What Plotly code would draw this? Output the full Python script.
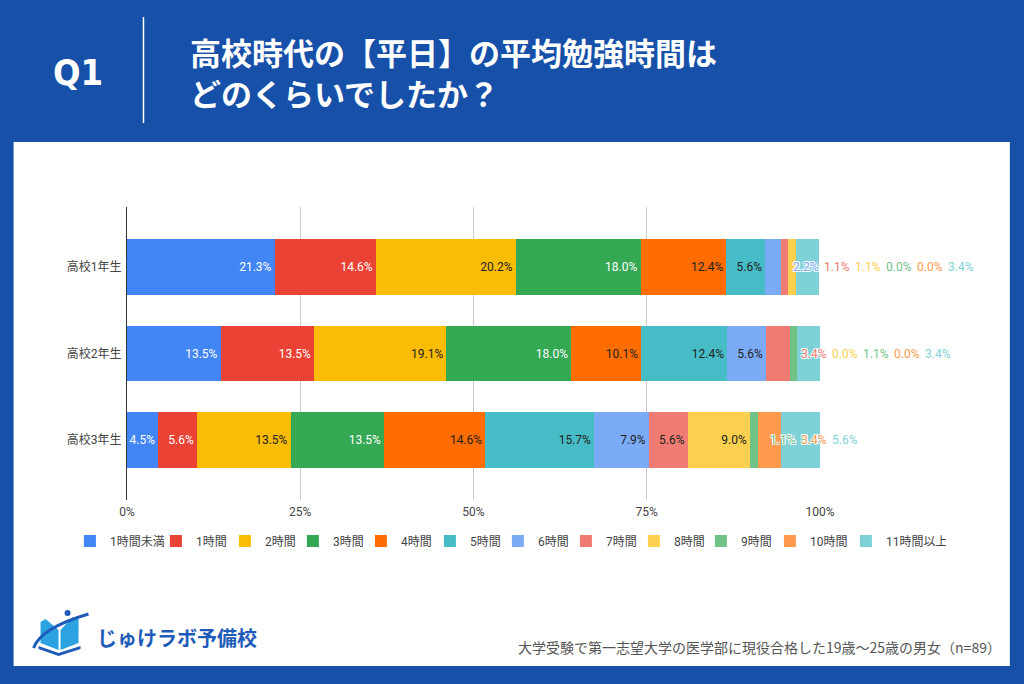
import plotly.graph_objects as go

# ---------------- data ----------------
categories = ["高校1年生", "高校2年生", "高校3年生"]
series_names = ["1時間未満", "1時間", "2時間", "3時間", "4時間", "5時間",
                "6時間", "7時間", "8時間", "9時間", "10時間", "11時間以上"]
s_lt1 = [21.3, 13.5, 4.5]
s_1h = [14.6, 13.5, 5.6]
s_2h = [20.2, 19.1, 13.5]
s_3h = [18.0, 18.0, 13.5]
s_4h = [12.4, 10.1, 14.6]
s_5h = [5.6, 12.4, 15.7]
s_6h = [2.2, 5.6, 7.9]
s_7h = [1.1, 3.4, 5.6]
s_8h = [1.1, 0.0, 9.0]
s_9h = [0.0, 1.1, 1.1]
s_10h = [0.0, 0.0, 3.4]
s_11h = [3.4, 3.4, 5.6]
series_values = [s_lt1, s_1h, s_2h, s_3h, s_4h, s_5h, s_6h, s_7h, s_8h, s_9h, s_10h, s_11h]
x_tick_vals = [0, 25, 50, 75, 100]
x_tick_text = ["0%", "25%", "50%", "75%", "100%"]

title_line1 = "高校時代の【平日】の平均勉強時間は"
title_line2 = "どのくらいでしたか？"
footnote_text = "大学受験で第一志望大学の医学部に現役合格した19歳～25歳の男女（n=89）"
logo_text = "じゅけラボ予備校"

# ---------------- style ----------------
colors = ["#4285F4", "#EA4335", "#FBBC04", "#34A853", "#FF6D01", "#46BDC6",
          "#7BAAF7", "#F07B72", "#FCD04F", "#71C287", "#FF994D", "#7ED1D7"]
text_colors = ["#FFFFFF", "#FFFFFF", "#222222", "#FFFFFF", "#222222", "#222222",
               "#222222", "#222222", "#222222", "#FFFFFF", "#222222", "#222222"]
legend_widths = [41, 24, 23, 23, 24, 23, 23, 23, 22, 24, 31, 55]
BG = "#1650A8"
FONT = "Roboto, 'Noto Sans CJK JP', sans-serif"
JFONT = "'Noto Sans CJK JP', sans-serif"
INSIDE_MIN = 4.5          # below this a label no longer fits inside
OUT_START = [95.8, 97.0, 92.5]   # where the outside label run starts (axis %)
OUT_STEP = 31             # px between outside labels

# plot-area pixel box
L, R, T, B = 126.5, 820, 207, 500
W, H = R - L, B - T


def px(x):
    return (x - L) / W


def py(y):
    return (B - y) / H


# decide which labels go outside (from first too-small segment onward)
n_cat = len(categories)
outside_from = []
for c in range(n_cat):
    idx = len(series_values)
    for s, vals in enumerate(series_values):
        if vals[c] < INSIDE_MIN:
            idx = s
            break
    outside_from.append(idx)

fig = go.Figure()
for s, (name, vals) in enumerate(zip(series_names, series_values)):
    texts = [f"{v:.1f}%" if s < outside_from[c] else "" for c, v in enumerate(vals)]
    fig.add_trace(go.Bar(
        y=categories, x=vals, name=name, orientation="h",
        marker=dict(color=colors[s], line=dict(width=0)),
        text=texts, textposition="inside", insidetextanchor="end",
        textangle=0, textfont=dict(color=text_colors[s], size=12, family=FONT),
        hoverinfo="skip", legendwidth=legend_widths[s],
    ))

annotations = []
outline = "-1px -1px 0 #fff, 1px -1px 0 #fff, -1px 1px 0 #fff, 1px 1px 0 #fff"
for c in range(n_cat):
    k = 0
    for s in range(outside_from[c], len(series_values)):
        annotations.append(dict(
            x=OUT_START[c], y=categories[c], xref="x", yref="y",
            text=f"{series_values[s][c]:.1f}%", showarrow=False,
            xanchor="left", yanchor="middle", xshift=k * OUT_STEP,
            font=dict(size=12, color=colors[s], family=FONT, shadow=outline),
        ))
        k += 1

# header texts
annotations += [
    dict(x=px(77), y=py(72), xref="paper", yref="paper", text="<b>Q1</b>",
         showarrow=False, xanchor="center", yanchor="middle",
         font=dict(size=36, color="white",
                   family="'Liberation Sans Narrow', 'DejaVu Sans Condensed', Roboto, sans-serif")),
    dict(x=px(189), y=py(51.5), xref="paper", yref="paper", text=f"<b>{title_line1}</b>",
         showarrow=False, xanchor="left", yanchor="middle", align="left", borderpad=0,
         font=dict(size=31, color="white", family=JFONT)),
    dict(x=px(189), y=py(92.5), xref="paper", yref="paper", text=f"<b>{title_line2}</b>",
         showarrow=False, xanchor="left", yanchor="middle", align="left", borderpad=0,
         font=dict(size=31, color="white", family=JFONT)),
    dict(x=px(1003), y=py(647), xref="paper", yref="paper", text=footnote_text,
         showarrow=False, xanchor="right", yanchor="middle",
         font=dict(size=14, color="#555555", family=JFONT)),
    dict(x=px(94), y=py(637), xref="paper", yref="paper", text=f"<b>{logo_text}</b>",
         showarrow=False, xanchor="left", yanchor="middle",
         font=dict(size=20, color="#1E5BB8", family=JFONT)),
]

shapes = [
    # white card
    dict(type="rect", xref="paper", yref="paper", x0=px(13), x1=px(1010),
         y0=py(666), y1=py(142), fillcolor="white", line=dict(width=0), layer="below"),
    # header divider
    dict(type="line", xref="paper", yref="paper", x0=px(143), x1=px(143),
         y0=py(17), y1=py(123), line=dict(color="white", width=1.5)),
]


# logo icon (book + swoosh)
def path_px(points, close=True):
    d = "M " + " L ".join(f"{px(x):.5f},{py(y):.5f}" for x, y in points)
    return d + (" Z" if close else "")


shapes += [
    dict(type="path", xref="paper", yref="paper",
         path=path_px([(40, 622), (45, 619), (58, 630), (58, 650), (40, 643)]),
         fillcolor="#2BA3E0", line=dict(width=0)),
    dict(type="path", xref="paper", yref="paper",
         path=path_px([(60, 630), (72, 617), (78, 619), (78, 643), (60, 650)]),
         fillcolor="#2BA3E0", line=dict(width=0)),
    dict(type="path", xref="paper", yref="paper",
         path=path_px([(38, 646), (58, 653), (80, 646), (80, 649), (58, 656), (38, 649)]),
         fillcolor="#1E5BB8", line=dict(width=0)),
    dict(type="path", xref="paper", yref="paper",
         path=f"M {px(33):.5f},{py(648):.5f} Q {px(40):.5f},{py(628):.5f} {px(88):.5f},{py(614):.5f}",
         line=dict(color="#1E5BB8", width=3)),
    dict(type="circle", xref="paper", yref="paper",
         x0=px(64), x1=px(70), y0=py(616), y1=py(610),
         fillcolor="#1E5BB8", line=dict(width=0)),
]

fig.update_layout(
    width=1024, height=684,
    margin=dict(l=L, r=1024 - R, t=T, b=684 - B, pad=0),
    paper_bgcolor=BG, plot_bgcolor="white",
    barmode="stack", bargap=0.355,
    showlegend=True,
    legend=dict(orientation="h", x=px(946), xanchor="right", y=py(541), yanchor="middle",
                font=dict(size=12, color="#444444", family=FONT),
                bgcolor="rgba(0,0,0,0)", itemclick=False, traceorder="normal",
                itemwidth=30),
    xaxis=dict(range=[0, 100], tickvals=x_tick_vals, ticktext=x_tick_text,
               showgrid=True, gridcolor="#CCCCCC", gridwidth=1, zeroline=False,
               showline=False, ticks="", fixedrange=True, ticklabelstandoff=3,
               tickfont=dict(size=12, color="#444444", family=FONT)),
    yaxis=dict(type="category", categoryorder="array", categoryarray=categories,
               range=[2.69, -0.69], showgrid=False, showline=True,
               linecolor="#333333", linewidth=1, ticks="", fixedrange=True,
               ticklabelstandoff=2,
               tickfont=dict(size=12, color="#444444", family=FONT)),
    uniformtext=dict(minsize=12, mode="show"),
    annotations=annotations, shapes=shapes,
)

fig.write_html("out.html", config={"displayModeBar": False},
               post_script="document.body.style.margin='0px';document.body.style.padding='0px';")
